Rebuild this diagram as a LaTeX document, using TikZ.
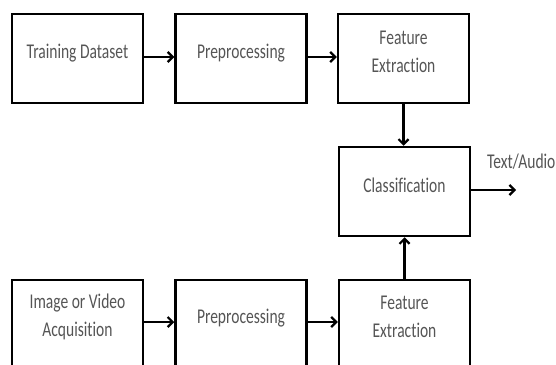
\documentclass[tikz,border=0pt]{standalone}
\usepackage{fontspec}
\setmainfont{Carlito}
\newfontfamily\narrowfont[FakeStretch=0.74,Ligatures={NoCommon}]{Carlito}
\usetikzlibrary{arrows.meta}
\definecolor{txt}{HTML}{555555}
\begin{document}
\begin{tikzpicture}[x=1pt,y=-1pt,
  box/.style={draw=black,line width=2.5pt,minimum width=131pt,minimum height=89pt,inner sep=0pt},
  lab/.style={text=txt,font=\narrowfont\fontsize{21}{28}\selectfont,align=center},
  conn/.style={line width=2.5pt,-{Straight Barb[length=5pt,width=10pt,line width=2.2pt]}}]
\useasboundingbox (0,0) rectangle (556,364);
\clip (0,0) rectangle (556,364);
\node[box] (b1) at (77.5,58.5) {};
\node[box] (b2) at (241,58.5) {};
\node[box] (b3) at (403.5,58.5) {};
\node[box] (c) at (404.5,191.5) {};
\node[box] (d1) at (77.5,324.5) {};
\node[box] (d2) at (241,324.5) {};
\node[box] (d3) at (404.5,324.5) {};
\node[lab] (t1) at (77.5,53) {Training Dataset};
\node[lab] (t2) at (241,53) {Preprocessing};
\node[lab] (t3) at (403.5,52) {Feature\\Extraction};
\node[lab] (tc) at (404.5,185) {Classification};
\node[lab] (u1) at (77.5,317) {Image or Video\\Acquisition};
\node[lab] (u2) at (241,318) {Preprocessing};
\node[lab] (u3) at (404.5,317) {Feature\\Extraction};
\node[lab,anchor=west,inner sep=0pt] (out) at (487,162) {Text/Audio};
\coordinate (oe) at (516,190);
\draw[conn] (b1.east |- 0,57) -- (b2.west |- 0,57);
\draw[conn] (b2.east |- 0,57) -- (b3.west |- 0,57);
\draw[conn] (b3.south) -- (b3.south |- c.north);
\draw[conn] (c.east |- oe) -- (oe);
\draw[conn] (d3.north) -- (c.south);
\draw[conn] (d1.east |- 0,322) -- (d2.west |- 0,322);
\draw[conn] (d2.east |- 0,322) -- (d3.west |- 0,322);
\end{tikzpicture}
\end{document}
